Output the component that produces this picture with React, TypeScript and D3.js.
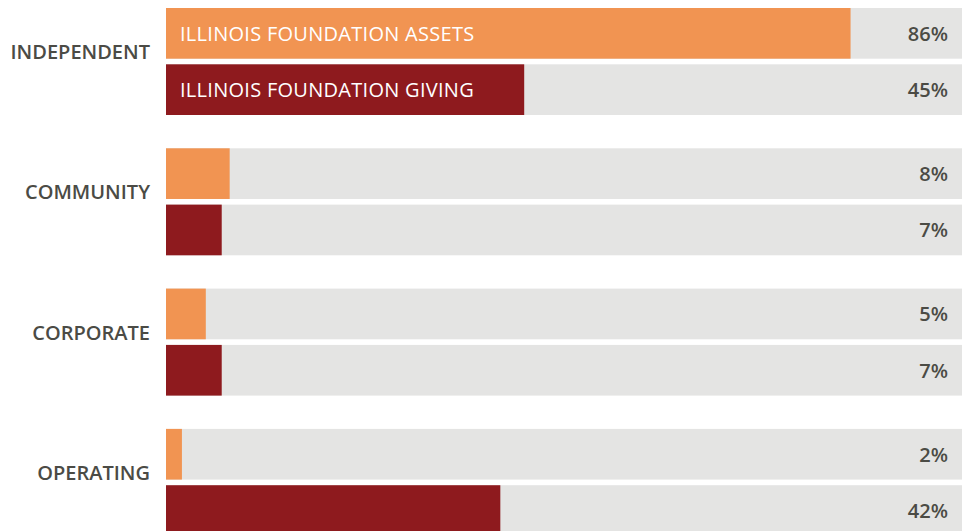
import React, { useRef, useEffect } from "react";
import * as d3 from "d3";

const categories = ["INDEPENDENT", "COMMUNITY", "CORPORATE", "OPERATING"];
const seriesNames = ["ILLINOIS FOUNDATION ASSETS", "ILLINOIS FOUNDATION GIVING"];
const assetsValues = [86, 8, 5, 2];
const givingValues = [45, 7, 7, 42];

const colors = ["#F19452", "#8E1A1E"];
const TEXT_COLOR = "#4b4b45";

function drawChart(svgElement: SVGSVGElement, totalWidth: number, totalHeight: number) {
  const margin = { top: 8, right: 2, bottom: 0, left: 166 };
  const svg = d3.select(svgElement);
  svg.selectAll("*").remove();

  const content = svg
    .append("g")
    .attr("transform", `translate(${margin.left}, ${margin.top})`);

  const CONTENT_WIDTH = totalWidth - margin.left - margin.right;
  const groupStep = 140.3;

  // group band
  const y = d3
    .scaleBand<string>()
    .domain(categories)
    .range([0, groupStep * categories.length])
    .paddingInner(0)
    .paddingOuter(0);

  // inner series band
  const inner = d3
    .scaleBand<string>()
    .domain(seriesNames)
    .range([0, 107])
    .paddingInner(0.1);

  const x = d3.scaleLinear().domain([0, 100]).range([0, CONTENT_WIDTH]);

  const rows = categories.flatMap((cat, i) => [
    { cat, series: seriesNames[0], value: assetsValues[i], color: colors[0] },
    { cat, series: seriesNames[1], value: givingValues[i], color: colors[1] },
  ]);

  const rowY = (d: { cat: string; series: string }) =>
    (y(d.cat) as number) + (inner(d.series) as number);

  // background tracks
  content
    .selectAll(".track")
    .data(rows)
    .enter()
    .append("rect")
    .attr("class", "track")
    .attr("x", x(0))
    .attr("y", rowY)
    .attr("width", x(100) - x(0))
    .attr("height", inner.bandwidth())
    .attr("fill", "#E4E4E3");

  content
    .selectAll(".bar")
    .data(rows)
    .enter()
    .append("rect")
    .attr("class", "bar")
    .attr("x", x(0))
    .attr("y", rowY)
    .attr("width", (d) => x(d.value) - x(0))
    .attr("height", inner.bandwidth())
    .attr("fill", (d) => d.color);

  // value labels
  content
    .selectAll(".val")
    .data(rows)
    .enter()
    .append("text")
    .attr("class", "val")
    .attr("x", x(100) - 14)
    .attr("y", (d) => rowY(d) + inner.bandwidth() / 2 + 7.5)
    .attr("text-anchor", "end")
    .attr("font-family", "'Open Sans', sans-serif")
    .attr("font-weight", 600)
    .attr("font-size", 20)
    .attr("fill", TEXT_COLOR)
    .text((d) => `${d.value}%`);

  // category labels
  content
    .selectAll(".cat")
    .data(categories)
    .enter()
    .append("text")
    .attr("class", "cat")
    .attr("x", -16)
    .attr("y", (d) => (y(d) as number) + inner.bandwidth() + 0.5)
    .attr("text-anchor", "end")
    .attr("font-family", "'Open Sans', sans-serif")
    .attr("font-weight", 600)
    .attr("font-size", 20)
    .attr("fill", TEXT_COLOR)
    .text((d) => d);

  // legend inside the first group's bars
  content
    .selectAll(".legend")
    .data(seriesNames)
    .enter()
    .append("text")
    .attr("class", "legend")
    .attr("x", 14)
    .attr("y", (d) => (y(categories[0]) as number) + (inner(d) as number) + inner.bandwidth() / 2 + 7.5)
    .attr("font-family", "'Open Sans', sans-serif")
    .attr("font-weight", 500)
    .attr("font-size", 20)
    .attr("letter-spacing", 0.28)
    .attr("fill", "#ffffff")
    .text((d) => d);
}

const App: React.FunctionComponent = function () {
  const width = 964;
  const height = 531;
  const svgRef = useRef<SVGSVGElement>(null);

  useEffect(() => {
    if (svgRef.current == null) {
      return;
    }
    drawChart(svgRef.current, width, height);
  }, []);

  return (
    <svg
      ref={svgRef}
      width={width}
      height={height}
      style={{ position: "absolute", left: 0, top: 0, background: "#fff" }}
    />
  );
};

export default App;
